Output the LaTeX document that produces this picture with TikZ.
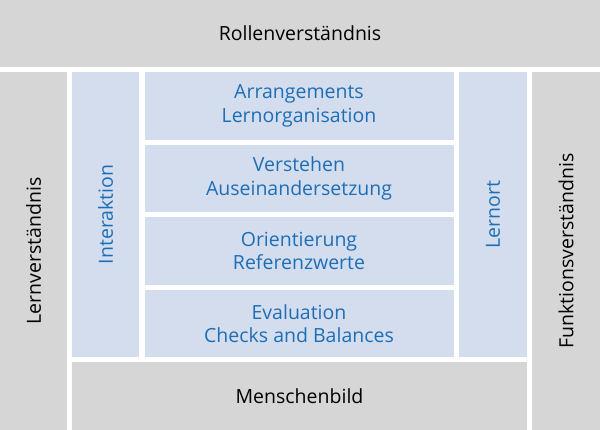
\documentclass[tikz,border=0pt]{standalone}
\usepackage{fontspec}
\setmainfont{Open Sans}
\usepackage{tikz}
\definecolor{framegray}{HTML}{D6D6D6}
\definecolor{paleblue}{HTML}{D3DDEE}
\definecolor{textblue}{HTML}{1E6EB6}

\begin{document}
\begin{tikzpicture}[x=1pt, y=-1pt]
    \tikzstyle{field}=[rectangle, inner sep=0pt, align=center, font=\fontsize{19.5}{23.5}\selectfont]
    \tikzstyle{outer field}=[field, fill=framegray, text=black];
    \tikzstyle{inner field}=[field, fill=paleblue, text=textblue];

    \useasboundingbox (0,0) rectangle (600,430);
    \fill[white] (0,0) rectangle (600,430);

    % Draw the grey frame
    \node[outer field, minimum width=600pt, minimum height=67pt] (Rolle) at (300,33.5) {Rollenverständnis};
    \node[outer field, rotate=90, minimum width=358pt, minimum height=67pt] (Lern) at (33.5,251) {Lernverständnis};
    \node[outer field, rotate=90, minimum width=358pt, minimum height=68pt] (Funktion) at (566,251) {Funktionsverständnis};
    \node[outer field, minimum width=455pt, minimum height=68pt] (Mensch) at (299.5,396) {Menschenbild};

    % Draw the blue side columns
    \node[inner field, rotate=90, minimum width=285pt, minimum height=67pt] (Inter) at (105.5,214.5) {Interaktion};
    \node[inner field, rotate=90, minimum width=285pt, minimum height=68pt] (Ort) at (493,214.5) {Lernort};

    % Draw the four middle rows
    \foreach \name / \y / \txt in {1/106/{Arrangements\\Lernorganisation},
                                   2/178.5/{Verstehen\\Auseinandersetzung},
                                   3/251/{Orientierung\\Referenzwerte},
                                   4/323.5/{Evaluation\\Checks and Balances}}
        \node[inner field, minimum width=309pt, minimum height=67.5pt] (M-\name) at (299,\y) {\txt};
\end{tikzpicture}
\end{document}
